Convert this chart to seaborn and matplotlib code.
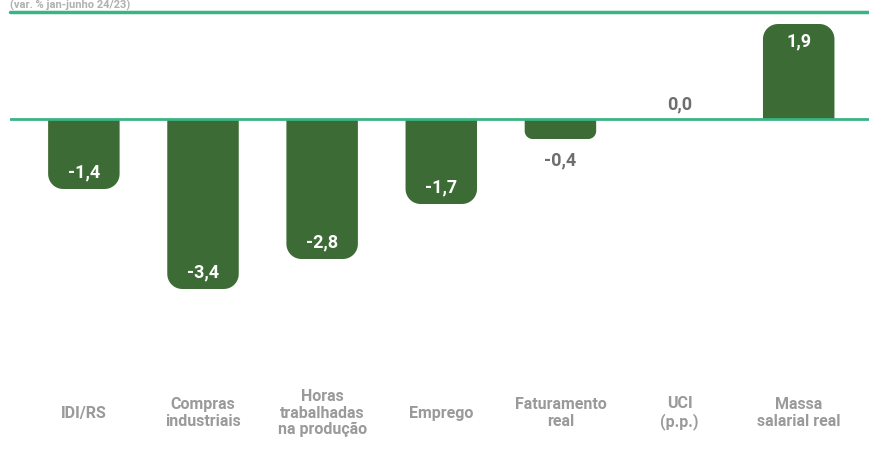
import numpy as np
import pandas as pd
import seaborn as sns
import matplotlib
matplotlib.use("Agg")
import matplotlib.pyplot as plt
from matplotlib.patches import PathPatch
from matplotlib.path import Path

categories = ["IDI/RS", "Compras\nindustriais", "Horas\ntrabalhadas\nna produção",
              "Emprego", "Faturamento\nreal", "UCI\n(p.p.)", "Massa\nsalarial real"]
values = [-1.4, -3.4, -2.8, -1.7, -0.4, 0.0, 1.9]
value_labels = ["-1,4", "-3,4", "-2,8", "-1,7", "-0,4", "0,0", "1,9"]
subtitle = "(var. % jan-junho 24/23)"

bar_color = "#3d6b35"
line_color = "#3bb384"
label_gray = "#9a9a9a"
value_gray = "#6e6e6e"

sns.set_theme(style="white")
plt.rcParams["font.family"] = ["Roboto", "DejaVu Sans"]

W, H = 869, 452
fig = plt.figure(figsize=(W / 100, H / 100), dpi=100)
# axes: x from 10px to right edge, y from 13px to 370px (from top)
ax = fig.add_axes([10 / W, (H - 370) / H, (W - 10) / W, (370 - 13) / H])

df = pd.DataFrame({"cat": categories, "val": values})
sns.barplot(data=df, x="cat", y="val", color=bar_color, width=0.6,
            saturation=1, ax=ax)

ax.set_xlim(-0.62, 6.59)
ax.set_ylim(-5.0, 2.14)

# data units per pixel, used for the rounded ends
px_x = (ax.get_xlim()[1] - ax.get_xlim()[0]) / (W - 10)
px_y = (ax.get_ylim()[1] - ax.get_ylim()[0]) / (370 - 13)


def rounded_bar(x0, w, base, end, r_px):
    """polygon: square at base, rounded corners at the far end"""
    sgn = 1 if end > base else -1
    rx = r_px * px_x
    ry = r_px * px_y
    t = np.linspace(0, np.pi / 2, 12)
    verts = [(x0, base)]
    cx, cy = x0 + rx, end - sgn * ry
    for a in t:
        verts.append((cx - rx * np.cos(a), cy + sgn * ry * np.sin(a)))
    cx = x0 + w - rx
    for a in t[::-1]:
        verts.append((cx + rx * np.cos(a), cy + sgn * ry * np.sin(a)))
    verts.append((x0 + w, base))
    verts.append((x0, base))
    return Path(verts, closed=True)


for patch in list(ax.patches):
    x0, w = patch.get_x(), patch.get_width()
    y0, h = patch.get_y(), patch.get_height()
    patch.set_visible(False)
    if abs(h) < 1e-9:
        continue
    end = y0 + h if y0 == 0 else y0
    h_px = abs(h) / px_y
    r_px = min(15, 0.4 * h_px)
    ax.add_patch(PathPatch(rounded_bar(x0, w, 0, end, r_px), fc=bar_color,
                           ec="none", zorder=2))

ax.axhline(0, color=line_color, lw=2, zorder=3)
ax.axhline(ax.get_ylim()[1], color=line_color, lw=2.5, zorder=3, clip_on=False)

for i, (v, lab) in enumerate(zip(values, value_labels)):
    if abs(v) < 0.5:
        # small bars: label outside
        y = v - 20 * px_y if v < 0 else v + 16 * px_y
        ax.text(i, y, lab, ha="center", va="center", color=value_gray,
                fontsize=13, fontweight="bold", zorder=4)
    else:
        y = v + 18 * px_y if v < 0 else v - 16 * px_y
        ax.text(i, y, lab, ha="center", va="center", color="white",
                fontsize=13, fontweight="bold", zorder=4)

ax.set_xlabel("")
ax.set_ylabel("")
ax.set_yticks([])
ax.set_xticks(range(len(categories)))
ax.set_xticklabels(categories, fontsize=11.5, color=label_gray,
                   fontweight="bold", linespacing=1.1)
for t in ax.get_xticklabels():
    t.set_verticalalignment("center")
ax.tick_params(axis="x", length=0, pad=31)
for s in ax.spines.values():
    s.set_visible(False)

fig.text(10 / W, 1 - 9 / H, subtitle, ha="left", va="baseline",
         fontsize=8, color="#b0b0b0", fontweight="bold")

fig.savefig("out.png", dpi=100)
